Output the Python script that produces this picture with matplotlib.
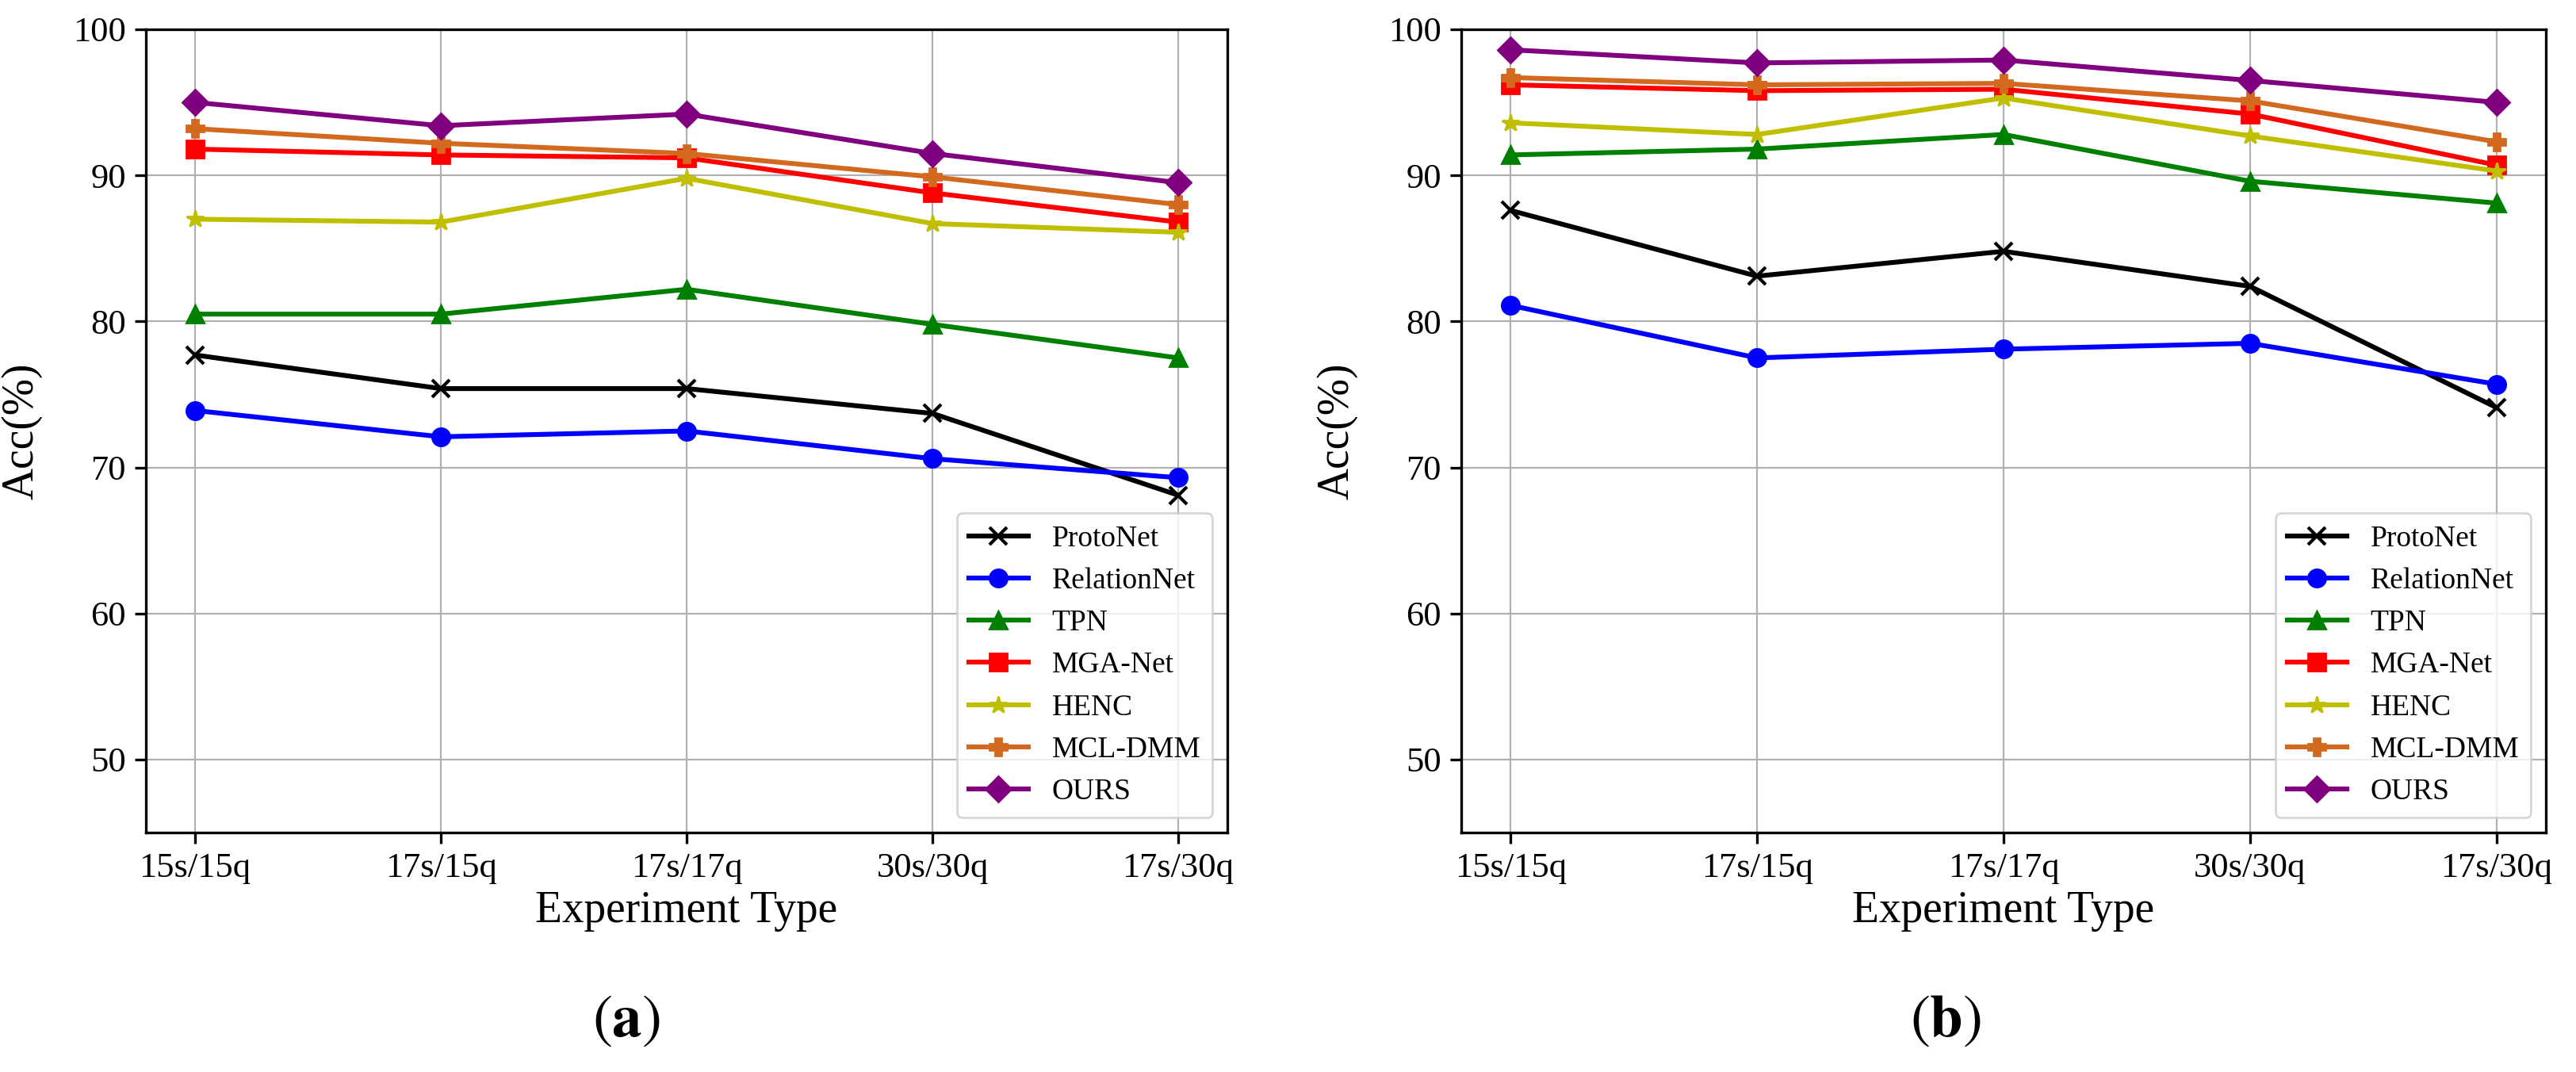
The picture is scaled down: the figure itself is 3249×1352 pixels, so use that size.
import matplotlib
matplotlib.use("Agg")
import matplotlib.pyplot as plt

plt.rcParams['font.family'] = ['Liberation Serif', 'DejaVu Serif']
plt.rcParams['mathtext.fontset'] = 'stix'

categories = ["15s/15q", "17s/15q", "17s/17q", "30s/30q", "17s/30q"]
methods = ["ProtoNet", "RelationNet", "TPN", "MGA-Net", "HENC", "MCL-DMM", "OURS"]

# Panel (a)
a_protonet = [77.7, 75.4, 75.4, 73.7, 68.1]
a_relationnet = [73.9, 72.1, 72.5, 70.6, 69.3]
a_tpn = [80.5, 80.5, 82.2, 79.8, 77.5]
a_mganet = [91.8, 91.4, 91.2, 88.8, 86.8]
a_henc = [87.0, 86.8, 89.8, 86.7, 86.1]
a_mcldmm = [93.2, 92.2, 91.5, 89.9, 88.0]
a_ours = [95.0, 93.4, 94.2, 91.5, 89.5]

# Panel (b)
b_protonet = [87.6, 83.1, 84.8, 82.4, 74.1]
b_relationnet = [81.1, 77.5, 78.1, 78.5, 75.7]
b_tpn = [91.4, 91.8, 92.8, 89.6, 88.1]
b_mganet = [96.2, 95.8, 95.9, 94.2, 90.7]
b_henc = [93.6, 92.8, 95.3, 92.7, 90.3]
b_mcldmm = [96.7, 96.2, 96.3, 95.1, 92.3]
b_ours = [98.6, 97.7, 97.9, 96.5, 95.0]

yticks = [50, 60, 70, 80, 90, 100]
panel_labels = [r"$(\mathbf{a})$", r"$(\mathbf{b})$"]

colors = ["black", "blue", "green", "red", "y", "chocolate", "purple"]
markers = ["x", "o", "^", "s", "*", "P", "D"]

panels = [
    [a_protonet, a_relationnet, a_tpn, a_mganet, a_henc, a_mcldmm, a_ours],
    [b_protonet, b_relationnet, b_tpn, b_mganet, b_henc, b_mcldmm, b_ours],
]

W, H, DPI = 3249, 1352, 200
fig = plt.figure(figsize=(W / DPI, H / DPI), dpi=DPI)

axes_rects = [
    [184 / W, 1 - 1050 / H, 1364 / W, 1013 / H],
    [1843 / W, 1 - 1050 / H, 1368 / W, 1013 / H],
]
label_x = [790 / W, 2454 / W]

x = list(range(len(categories)))
for p, (rect, series) in enumerate(zip(axes_rects, panels)):
    ax = fig.add_axes(rect)
    for name, vals, c, m in zip(methods, series, colors, markers):
        mew = 1.5 if m == "x" else 1.0
        ax.plot(x, vals, color=c, marker=m, markersize=8, linewidth=2.2,
                markeredgewidth=mew, label=name)
    ax.set_ylim(45, 100)
    ax.set_yticks(yticks)
    ax.set_xticks(x)
    ax.set_xticklabels(categories)
    ax.grid(True, color="#b0b0b0", linewidth=0.8)
    ax.set_axisbelow(True)
    for s in ax.spines.values():
        s.set_linewidth(1.2)
    ax.tick_params(axis="both", labelsize=16, length=5, width=1.2, pad=4)
    ax.set_xlabel("Experiment Type", fontsize=20, labelpad=3)
    ax.set_ylabel("Acc(%)", fontsize=20, labelpad=14)
    ax.legend(loc="lower right", fontsize=13.5)
    fig.text(label_x[p], 1 - 1288 / H, panel_labels[p], fontsize=27,
             ha="center", va="center")

fig.savefig("out.png", dpi=DPI)
